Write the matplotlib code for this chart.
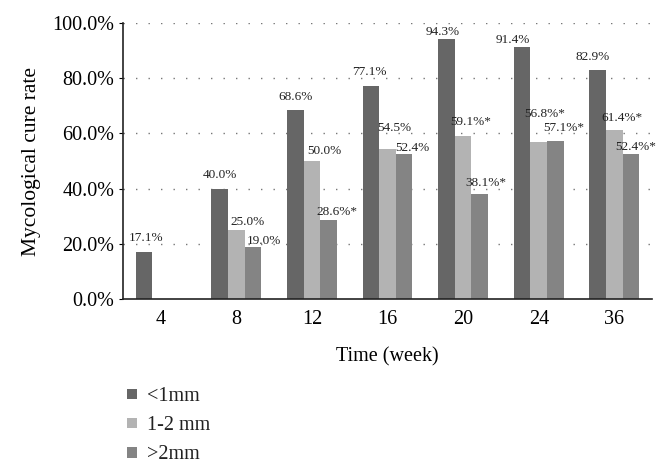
"""
Mycological cure rate by lesion thickness over time, grouped bar chart.
"""

import numpy as np
import matplotlib
matplotlib.use('Agg')
import matplotlib.pyplot as plt

# ============================================================================
# Data
# ============================================================================

weeks = ['4', '8', '12', '16', '20', '24', '36']
series_names = ['<1mm', '1-2 mm', '>2mm']

# cure rates in percent, nan = no bar
under_1mm = [17.1, 40.0, 68.6, 77.1, 94.3, 91.4, 82.9]
mm_1_2 = [np.nan, 25.0, 50.0, 54.5, 59.1, 56.8, 61.4]
over_2mm = [np.nan, 19.0, 28.6, 52.4, 38.1, 57.1, 52.4]

# which labels carry an asterisk (significant)
star_1_2 = [False, False, False, False, True, True, True]
star_over_2 = [False, False, True, False, True, True, True]

# ============================================================================
# Plot
# ============================================================================

plt.rcParams['font.family'] = ['Liberation Serif', 'DejaVu Serif']
plt.rcParams['text.color'] = '#222222'

colors = ['#666666', '#b3b3b3', '#848484']
series = [under_1mm, mm_1_2, over_2mm]
stars = [[False] * len(weeks), star_1_2, star_over_2]

# label nudges in pixels (dx, dy above bar top), hand placed to follow the figure
nudges = [
    [(2, 14), (0, 14), (0, 13), (-1, 14), (-4, 7), (-9, 7), (-5, 13)],
    [None, (11, 8), (13, 10), (7, 21), (5, 14), (3, 28), (5, 12)],
    [None, (11, 6), (5, 8), (8, 6), (3, 11), (5, 13), (2, 7)],
]

fig = plt.figure(figsize=(6.71, 4.71), dpi=100)
ax = fig.add_axes([0.183, 0.365, 0.789, 0.586])

x = np.arange(len(weeks))
width = 0.22
px = 72.0 / fig.dpi  # pixels -> points

for i, (vals, col) in enumerate(zip(series, colors)):
    xpos = x + (i - 1) * width
    frac = np.nan_to_num(vals) / 100.0
    ax.bar(xpos, frac, width, color=col, label=series_names[i], zorder=3)
    for j, v in enumerate(vals):
        if np.isnan(v):
            continue
        dx, dy = nudges[i][j]
        label = '%.1f%%' % v
        if stars[i][j]:
            # asterisk goes straight after the %, keep the number where it was
            label += '*'
            dx += 3
        ax.annotate(label, xy=(xpos[j], v / 100.0),
                    xytext=(dx * px, dy * px), textcoords='offset points',
                    ha='center', va='center', fontsize=9.5, zorder=4)

ax.set_xlim(-0.5, len(weeks) - 0.5)
ax.set_ylim(0, 1.0)
ax.set_xticks(x)
ax.set_xticklabels(weeks, fontsize=14.5)
yt = np.arange(0, 1.01, 0.2)
ax.set_yticks(yt)
ax.set_yticklabels(['%.1f%%' % (t * 100) for t in yt], fontsize=14.5)
ax.tick_params(axis='x', length=0, pad=8)
ax.tick_params(axis='y', length=3, width=0.8, pad=3)

for yv in yt[1:]:
    ax.axhline(yv, color='#777777', lw=1.0, dashes=(1, 8), zorder=1)

for s in ['top', 'right']:
    ax.spines[s].set_visible(False)
for s in ['left', 'bottom']:
    ax.spines[s].set_linewidth(1.2)
    ax.spines[s].set_color('#222222')
    ax.spines[s].set_zorder(5)

ax.set_xlabel('Time (week)', fontsize=14.5, labelpad=13)
ax.set_ylabel('Mycological cure rate', fontsize=15.5, labelpad=8)

fig.legend(loc='upper left', bbox_to_anchor=(0.19, 0.178), frameon=False,
           fontsize=14.5, handlelength=0.45, handleheight=0.45,
           handletextpad=0.5, labelspacing=0.5, borderpad=0, borderaxespad=0)

fig.savefig('out.png', dpi=100)
